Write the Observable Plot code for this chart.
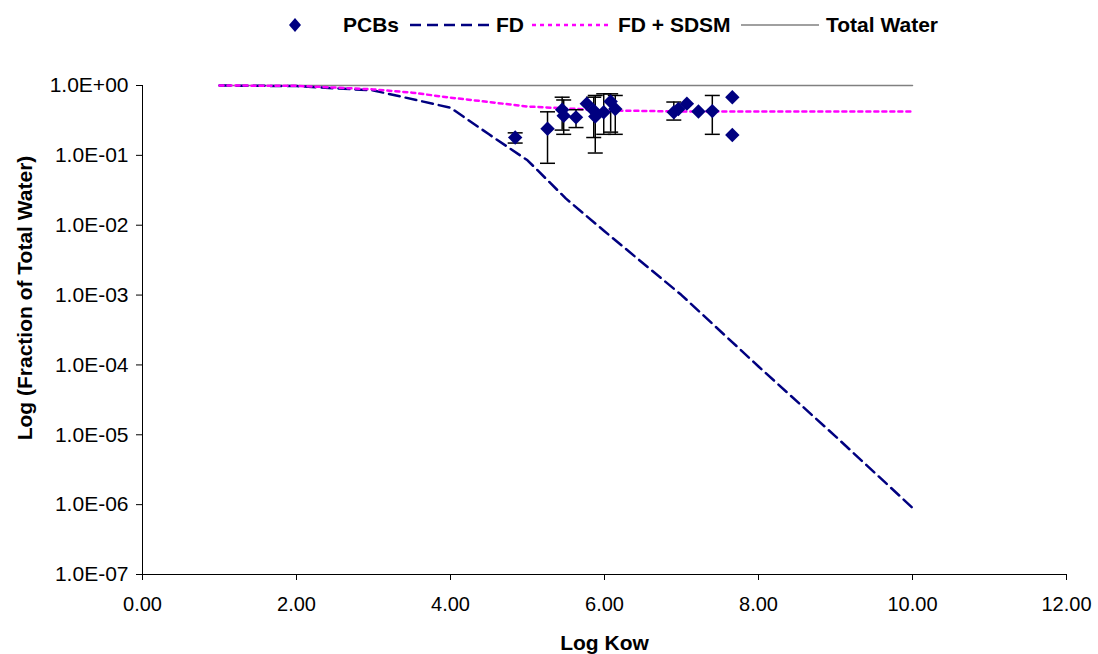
<!DOCTYPE html>
<html>
<head>
<meta charset="utf-8">
<script src="https://cdn.jsdelivr.net/npm/d3@7"></script>
<script src="https://cdn.jsdelivr.net/npm/@observablehq/plot@0.6"></script>
<style>
  html, body { margin: 0; padding: 0; background: #fff; }
  #wrap { position: relative; width: 1098px; height: 654px; font-family: "Liberation Sans", Arial, sans-serif; }
  #legend { position: relative; width: 1098px; height: 60px; }
  #legend .t { position: absolute; top: 13px; font-weight: bold; font-size: 21px; line-height: 24px; color: #000; white-space: nowrap; }
  #legend svg.sw { position: absolute; top: 15px; height: 20px; }
</style>
</head>
<body>
<div id="wrap">
  <div id="legend"></div>
  <div id="chart"></div>
</div>
<script>
// ---- Data ----
const seriesNames = ["PCBs", "FD", "FD + SDSM", "Total Water"];

// FD curve (Log Kow, fraction)
const fdX = [1, 2, 3, 4, 4.5, 5, 5.5, 6, 7, 8, 9, 10];
const fdY = [1.0, 0.98, 0.85, 0.48, 0.2, 0.085, 0.024, 0.0082, 0.001, 0.000095, 0.0000095, 0.0000009];

// FD + SDSM curve
const sdsmX = [1, 2, 3, 3.5, 4, 4.5, 5, 5.5, 6, 7, 8, 9, 10];
const sdsmY = [1.0, 0.99, 0.88, 0.79, 0.67, 0.58, 0.5, 0.47, 0.44, 0.425, 0.425, 0.425, 0.425];

// Total water
const twX = [1, 10];
const twY = [1, 1];

// PCB observations with error bars (null = no bar)
const pcbX  = [4.84, 5.26, 5.45, 5.47, 5.63, 5.77, 5.86, 5.88, 5.99, 6.08, 6.14, 6.90, 6.96, 7.07, 7.22, 7.40, 7.66, 7.66];
const pcbY  = [0.18, 0.24, 0.45, 0.37, 0.35, 0.55, 0.44, 0.36, 0.415, 0.59, 0.46, 0.415, 0.46, 0.55, 0.425, 0.43, 0.68, 0.196];
const pcbLo = [0.15, 0.077, 0.23, 0.20, 0.25, null, 0.18, 0.108, 0.20, 0.215, 0.20, 0.32, null, null, null, 0.20, null, null];
const pcbHi = [0.21, 0.42, 0.68, 0.62, 0.45, null, 0.68, 0.72, 0.76, 0.76, 0.72, 0.58, null, null, null, 0.72, null, null];

// Axis ticks
const xTicks = [0, 2, 4, 6, 8, 10, 12];
const yTicks = [1, 1e-1, 1e-2, 1e-3, 1e-4, 1e-5, 1e-6, 1e-7];
const yTickLabels = ["1.0E+00", "1.0E-01", "1.0E-02", "1.0E-03", "1.0E-04", "1.0E-05", "1.0E-06", "1.0E-07"];

const xLabel = "Log Kow";
const yLabel = "Log (Fraction of Total Water)";

// ---- Build tables ----
const fd = fdX.map((x, i) => ({x, y: fdY[i]}));
const sdsm = sdsmX.map((x, i) => ({x, y: sdsmY[i]}));
const tw = twX.map((x, i) => ({x, y: twY[i]}));
const pcb = pcbX.map((x, i) => ({x, y: pcbY[i], lo: pcbLo[i], hi: pcbHi[i]}));
const err = pcb.filter(d => d.lo != null);
const caps = err.flatMap(d => [{x: d.x, y: d.lo}, {x: d.x, y: d.hi}]);

const capSymbol = {
  draw(context, size) {
    const w = 7.5;
    context.moveTo(-w, 0);
    context.lineTo(w, 0);
  }
};

const chart = Plot.plot({
  width: 1098,
  height: 594,
  marginLeft: 142,
  marginRight: 32,
  marginTop: 25,
  marginBottom: 80,
  style: {fontFamily: "Liberation Sans, Arial, sans-serif", fontSize: "20px", color: "#000", background: "#fff"},
  x: {domain: [0, 12]},
  y: {type: "log", domain: [1e-7, 1]},
  marks: [
    Plot.axisX({ticks: xTicks, tickFormat: d => d.toFixed(2), tickSize: 6, tickPadding: 16, label: null, fontSize: 20}),
    Plot.axisY({ticks: yTicks, tickFormat: d => yTickLabels[yTicks.indexOf(d)], tickSize: 6, tickPadding: 8, label: null, fontSize: 21}),
    Plot.ruleX([0], {stroke: "#000", strokeWidth: 1}),
    Plot.ruleY([1e-7], {stroke: "#000", strokeWidth: 1}),
    Plot.line(tw, {x: "x", y: "y", stroke: "#808080", strokeWidth: 1.5}),
    Plot.line(fd, {x: "x", y: "y", stroke: "#000080", strokeWidth: 2.5, strokeDasharray: "11,6"}),
    Plot.line(sdsm, {x: "x", y: "y", stroke: "#FF00FF", strokeWidth: 2.5, strokeDasharray: "4,4"}),
    Plot.ruleX(err, {x: "x", y1: "lo", y2: "hi", stroke: "#000", strokeWidth: 1.5}),
    Plot.dot(caps, {x: "x", y: "y", symbol: capSymbol, r: 5, fill: "none", stroke: "#000", strokeWidth: 1.5}),
    Plot.dot(pcb, {x: "x", y: "y", symbol: "diamond2", r: 6.5, fill: "#000080", stroke: "none"}),
    Plot.text([xLabel], {frameAnchor: "bottom", textAnchor: "middle", lineAnchor: "middle", dy: 69, fontWeight: "bold", fontSize: 21, fill: "#000"}),
    Plot.text([yLabel], {frameAnchor: "left", textAnchor: "middle", lineAnchor: "middle", dx: -117, dy: -32, rotate: -90, fontWeight: "bold", fontSize: 21, fill: "#000"})
  ]
});
document.getElementById("chart").appendChild(chart);

// ---- Legend ----
const legend = document.getElementById("legend");
function addText(txt, left) {
  const s = document.createElement("span");
  s.className = "t";
  s.style.left = left + "px";
  s.textContent = txt;
  legend.appendChild(s);
}
function addSwatch(left, width, inner) {
  const ns = "http://www.w3.org/2000/svg";
  const svg = document.createElementNS(ns, "svg");
  svg.setAttribute("class", "sw");
  svg.setAttribute("width", width);
  svg.setAttribute("height", 20);
  svg.style.left = left + "px";
  svg.innerHTML = inner;
  legend.appendChild(svg);
}
addSwatch(287, 16, '<path d="M8,3 L14,10 L8,17 L2,10 Z" fill="#000080"/>');
addText(seriesNames[0], 343);
addSwatch(410, 82, '<line x1="0" y1="10" x2="82" y2="10" stroke="#000080" stroke-width="2.5" stroke-dasharray="11,6"/>');
addText(seriesNames[1], 496);
addSwatch(532, 78, '<line x1="0" y1="10" x2="78" y2="10" stroke="#FF00FF" stroke-width="2.5" stroke-dasharray="4,4"/>');
addText(seriesNames[2], 618);
addSwatch(741, 78, '<line x1="0" y1="10" x2="78" y2="10" stroke="#808080" stroke-width="1.5"/>');
addText(seriesNames[3], 826);
</script>
</body>
</html>
